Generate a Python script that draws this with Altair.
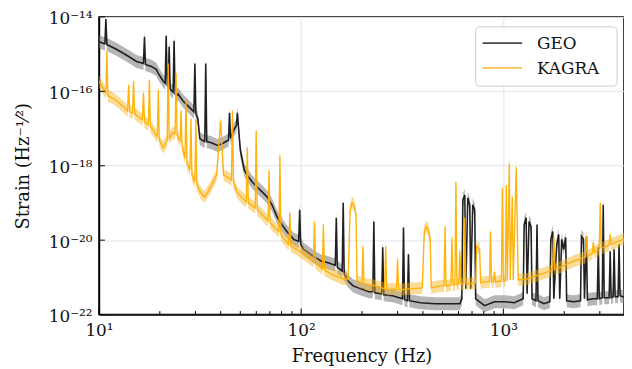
import math
import altair as alt
import pandas as pd

# ---------------- data ----------------
geo_freq = [10.0, 10.58, 10.70, 10.82, 10.94, 11.19, 12.25, 13.25, 14.02, 15.34,
            16.60, 16.79, 16.98, 17.56, 18.16, 19.21, 19.65, 20.79, 21.26, 21.50,
            21.75, 22.0, 22.24, 22.49, 23.26, 23.53, 23.79, 24.06, 24.62, 26.04,
            27.55, 29.15, 29.48, 29.81, 30.15, 30.83, 31.54, 32.62, 33.36, 33.74,
            34.12, 35.70, 38.63, 40.86, 43.23, 43.72, 44.22, 44.72, 46.24, 47.83,
            48.37, 48.92, 50.03, 52.34, 54.14, 57.27, 60.60, 64.10, 67.80, 71.73,
            75.89, 80.29, 84.96, 91.92, 97.23, 98.33, 99.45, 102.8, 106.4, 116.4,
            126.0, 133.3, 147.5, 149.2, 150.9, 159.6, 161.4, 163.2, 170.7, 180.6,
            197.6, 216.3, 226.2, 228.8, 231.4, 250.4, 253.2, 256.1, 283.4, 317.1,
            320.7, 324.4, 335.6, 339.3, 343.2, 388.4, 459.9, 544.5, 609.3, 623.3,
            630.3, 644.7, 652.0, 666.8, 682.0, 689.7, 705.4, 721.5, 729.6, 807.5,
            903.6, 1011, 1132, 1253, 1267, 1296, 1310, 1340, 1371, 1386,
            1450, 1467, 1483, 1587, 1697, 1717, 1756, 1776, 1837, 1878,
            1900, 1943, 1988, 2033, 2056, 2224, 2407, 2434, 2489, 2518,
            2575, 2603, 2786, 2914, 2947, 2981, 3083, 3118, 3153, 3336,
            3375, 3412, 3490, 3529, 3569, 3692, 3734, 3776, 3906, 4000]
geo_strain = [2.17e-15, 1.92e-15, 1.92e-15, 8.85e-15, 1.80e-15, 1.70e-15, 1.33e-15, 1.04e-15, 8.65e-16, 6.37e-16,
              5.63e-16, 2.94e-15, 5.30e-16, 4.99e-16, 4.69e-16, 3.90e-16, 3.05e-16, 1.87e-16, 1.66e-16, 3.13e-15,
              1.47e-16, 1.30e-16, 1.59e-15, 1.15e-16, 9.55e-17, 2.30e-15, 8.45e-17, 7.48e-17, 8.45e-17, 5.51e-17,
              4.06e-17, 2.99e-17, 2.81e-17, 5.63e-16, 2.48e-17, 1.83e-17, 5.38e-18, 4.76e-18, 4.48e-18, 5.63e-16,
              4.48e-18, 4.21e-18, 3.51e-18, 3.96e-18, 4.76e-18, 4.76e-18, 2.64e-17, 5.38e-18, 8.79e-18, 1.19e-17,
              2.64e-17, 1.19e-17, 2.58e-18, 7.59e-19, 5.60e-19, 3.64e-19, 2.68e-19, 1.98e-19, 1.46e-19, 8.91e-20,
              4.28e-20, 2.62e-20, 1.71e-20, 1.05e-20, 9.27e-21, 6.56e-20, 7.71e-21, 5.68e-21, 5.02e-21, 3.48e-21,
              2.72e-21, 2.56e-21, 2.13e-21, 4.02e-20, 1.89e-21, 1.48e-21, 1.01e-19, 1.23e-21, 8.01e-22, 5.90e-22,
              4.91e-22, 4.09e-22, 4.09e-22, 3.15e-20, 3.84e-22, 3.61e-22, 6.42e-21, 3.40e-22, 3.20e-22, 2.66e-22,
              2.18e-20, 2.50e-22, 2.36e-22, 4.18e-21, 2.36e-22, 2.08e-22, 1.96e-22, 1.96e-22, 1.96e-22, 2.66e-22,
              1.21e-19, 1.64e-19, 4.91e-22, 1.37e-19, 8.91e-20, 4.91e-22, 8.91e-20, 6.56e-20, 2.66e-22, 1.73e-22,
              2.22e-22, 2.22e-22, 2.08e-22, 2.66e-22, 2.62e-20, 4.02e-20, 3.61e-22, 3.15e-20, 2.32e-20, 2.66e-22,
              2.36e-22, 2.62e-20, 2.36e-22, 1.96e-22, 2.22e-22, 1.05e-20, 1.71e-20, 2.66e-22, 7.71e-21, 1.42e-20,
              2.66e-22, 1.05e-20, 5.68e-21, 1.18e-20, 2.36e-22, 2.22e-22, 2.36e-22, 1.26e-20, 1.05e-20, 2.66e-22,
              1.26e-20, 2.50e-22, 2.66e-22, 2.66e-22, 6.42e-21, 2.66e-22, 2.83e-22, 8.91e-20, 2.83e-22, 2.83e-22,
              5.02e-21, 2.83e-22, 3.01e-22, 5.68e-21, 3.01e-22, 3.01e-22, 7.71e-21, 3.20e-22, 3.01e-22, 2.90e-22]

kagra_freq = [10.0, 10.34, 10.82, 10.94, 11.07, 11.45, 12.25, 13.25, 13.86, 14.02,
              14.18, 14.66, 14.83, 15.00, 15.69, 16.41, 16.60, 16.79, 17.56, 17.76,
              17.96, 18.58, 19.43, 19.65, 19.87, 20.79, 21.75, 22.0, 22.24, 23.26,
              23.79, 24.06, 24.33, 25.18, 25.46, 25.75, 26.64, 26.94, 27.24, 28.18,
              28.50, 28.82, 29.81, 30.15, 30.49, 31.90, 33.36, 35.70, 38.19, 39.96,
              41.32, 43.23, 45.22, 45.74, 46.24, 48.37, 52.34, 53.54, 54.14, 54.75,
              59.25, 59.92, 60.60, 64.10, 67.80, 68.57, 69.35, 70.14, 75.89, 77.62,
              78.50, 79.39, 84.96, 86.89, 87.88, 88.86, 95.06, 106.4, 115.1, 116.4,
              117.8, 127.4, 128.8, 130.3, 141.0, 161.4, 170.7, 174.7, 178.6, 182.7,
              186.8, 188.9, 199.8, 202.1, 204.4, 234.0, 259.0, 261.9, 264.9, 283.4,
              296.4, 299.8, 303.2, 347.1, 397.2, 406.3, 415.6, 425.1, 434.8, 439.6,
              486.4, 508.8, 514.6, 520.5, 550.6, 556.9, 563.3, 576.1, 582.6, 589.3,
              602.6, 609.3, 616.4, 637.6, 644.7, 652.0, 729.6, 737.9, 763.2, 772.0,
              807.5, 854.2, 863.8, 873.6, 893.5, 903.6, 913.8, 977.7, 988.8, 1000,
              1023, 1034, 1046, 1070, 1082, 1107, 1119, 1158, 1184, 1310,
              1500, 1756, 1776, 1796, 1921, 2224, 2546, 2575, 2603, 2755,
              2786, 2818, 2981, 3014, 3049, 3336, 3375, 3412, 3906, 4000]
kagra_strain = [1.87e-16, 1.38e-16, 8.98e-17, 1.17e-15, 7.48e-17, 7.03e-17, 5.51e-17, 3.81e-17, 2.99e-17, 1.47e-16,
                2.81e-17, 2.64e-17, 1.87e-16, 2.48e-17, 2.07e-17, 1.72e-17, 8.98e-17, 1.52e-17, 1.27e-17, 1.99e-16,
                1.12e-17, 8.79e-18, 6.08e-18, 1.08e-16, 4.76e-18, 3.10e-18, 4.76e-18, 5.63e-16, 5.38e-18, 7.77e-18,
                7.31e-18, 3.05e-16, 6.47e-18, 4.76e-18, 2.99e-17, 3.51e-18, 1.58e-18, 5.85e-17, 1.16e-18, 7.59e-19,
                1.83e-17, 5.60e-19, 3.64e-19, 1.72e-17, 3.03e-19, 1.86e-19, 1.46e-19, 2.68e-19, 5.60e-19, 1.62e-17,
                5.60e-19, 4.95e-19, 4.12e-19, 2.99e-17, 3.64e-19, 1.86e-19, 1.21e-19, 1.07e-19, 3.10e-18, 1.01e-19,
                7.41e-20, 8.79e-18, 6.56e-20, 4.83e-20, 3.56e-20, 3.35e-20, 7.59e-19, 2.96e-20, 1.93e-20, 1.71e-20,
                1.90e-18, 1.42e-20, 8.71e-21, 7.71e-21, 5.47e-20, 6.82e-21, 5.68e-21, 3.70e-21, 2.72e-21, 3.15e-20,
                2.41e-21, 1.67e-21, 2.62e-20, 1.57e-21, 1.23e-21, 9.06e-22, 9.06e-22, 6.56e-20, 1.01e-19, 8.91e-20,
                4.83e-20, 8.01e-22, 7.09e-22, 6.82e-21, 6.67e-22, 5.90e-22, 4.91e-22, 6.82e-21, 4.62e-22, 4.91e-22,
                4.62e-22, 3.08e-21, 4.62e-22, 4.91e-22, 5.22e-22, 1.71e-20, 2.32e-20, 1.93e-20, 1.05e-20, 5.22e-22,
                5.90e-22, 5.90e-22, 2.32e-20, 5.90e-22, 6.27e-22, 1.18e-20, 6.27e-22, 6.27e-22, 3.64e-19, 6.27e-22,
                6.67e-22, 5.02e-21, 6.67e-22, 6.67e-22, 4.02e-20, 6.67e-22, 7.09e-22, 6.82e-21, 5.68e-21, 7.09e-22,
                7.54e-22, 7.54e-22, 1.71e-20, 7.54e-22, 7.54e-22, 1.39e-21, 7.54e-22, 8.01e-22, 2.52e-19, 8.01e-22,
                8.01e-22, 3.03e-19, 8.01e-22, 1.16e-18, 8.51e-22, 1.46e-19, 8.51e-22, 9.12e-19, 8.51e-22, 9.06e-22,
                1.16e-21, 1.57e-21, 1.26e-20, 1.67e-21, 1.89e-21, 2.72e-21, 3.48e-21, 1.26e-20, 3.70e-21, 4.45e-21,
                8.71e-21, 4.72e-21, 5.68e-21, 1.01e-19, 6.04e-21, 7.26e-21, 1.42e-20, 7.71e-21, 1.05e-20, 1.10e-20]

detectors = ["GEO", "KAGRA"]
band_factor = [1.5, 1.45]          # multiplicative half-width of the shaded band
line_colors = ["#161616", "#ffb000"]
band_colors = ["#7a7a7a", "#f6b01a"]
legend_colors = ["#4a4a4a", "#f8c050"]

x_major = [10, 100, 1000]
x_major_labels = ["10¹", "10²", "10³"]
x_minor = [20, 30, 40, 50, 60, 70, 80, 90, 200, 300, 400, 500, 600, 700, 800, 900, 2000, 3000]
y_major = [1e-22, 1e-20, 1e-18, 1e-16, 1e-14]
y_major_labels = ["10⁻²²", "10⁻²⁰", "10⁻¹⁸", "10⁻¹⁶", "10⁻¹⁴"]

# ---------------- build tables ----------------
df = pd.concat([
    pd.DataFrame({"f": geo_freq, "s": geo_strain, "det": "GEO", "k": band_factor[0]}),
    pd.DataFrame({"f": kagra_freq, "s": kagra_strain, "det": "KAGRA", "k": band_factor[1]}),
])
legend_df = pd.DataFrame({"det": detectors})

FONT = "DejaVu Serif"
W, H = 531, 301

xs = alt.Scale(type="log", domain=[10, 3950], nice=False)
ys = alt.Scale(type="log", domain=[1e-22, 1e-14], nice=False)


def chain(values, labels):
    key = "round(log(datum.value)/LN10)"
    expr = "''"
    for v, lab in reversed(list(zip(values, labels))):
        expr = f"({key} == {round(math.log10(v))} ? '{lab}' : {expr})"
    return expr


x_axis = alt.Axis(values=x_major, labelExpr=chain(x_major, x_major_labels), title="Frequency (Hz)",
                  tickSize=0, labelPadding=8, labelFontSize=17, labelFont=FONT,
                  titleFontSize=18, titleFont=FONT, titleFontWeight="normal",
                  titleBaseline="alphabetic", titleY=47, titleColor="#111",
                  grid=True, gridColor="#e4e4e4", domainColor="black", domainWidth=1.5,
                  labelColor="#111", labelFlush=False, labelOverlap=False, labelBound=False)
y_axis = alt.Axis(values=y_major, labelExpr=chain(y_major, y_major_labels), title="Strain (Hz⁻¹⁄²)",
                  tickSize=0, labelPadding=7, labelFontSize=17, labelFont=FONT,
                  labelOffset=2,
                  titleFontSize=18, titleFont=FONT, titleFontWeight="normal",
                  titleAngle=270, titleX=-76, titleY=H / 2, titleAlign="center",
                  titleBaseline="middle", titleColor="#111",
                  grid=True, gridColor="#e4e4e4", domainColor="black", domainWidth=1.5,
                  labelColor="#111", labelFlush=False, labelOverlap=False, labelBound=False)

X = alt.X("f:Q", scale=xs, axis=x_axis)
Y = alt.Y("s:Q", scale=ys, axis=y_axis)

layers = []
for det, bcol, lcol in zip(detectors, band_colors, line_colors):
    band = alt.Chart(df).transform_filter(alt.datum.det == det).transform_calculate(
        lo="datum.s / datum.k", hi="datum.s * datum.k"
    ).mark_area(clip=True, opacity=0.55 if det == "GEO" else 0.45, color=bcol).encode(
        x=X, y=alt.Y("lo:Q", scale=ys, axis=y_axis), y2="hi:Q"
    )
    line = alt.Chart(df).transform_filter(alt.datum.det == det).mark_line(
        clip=True, strokeWidth=1.6 if det == "GEO" else 1.4, color=lcol, opacity=0.95
    ).encode(x=X, y=Y)
    layers += [band, line]

xmaj = alt.Chart(pd.DataFrame({"f": x_major})).mark_rule(color="black", strokeWidth=1).encode(
    x=X, y=alt.value(H), y2=alt.value(H - 6))
xmin = alt.Chart(pd.DataFrame({"f": x_minor})).mark_rule(color="black", strokeWidth=1).encode(
    x=X, y=alt.value(H), y2=alt.value(H - 3.5))
ymaj = alt.Chart(pd.DataFrame({"s": y_major})).mark_rule(color="black", strokeWidth=1).encode(
    y=Y, x=alt.value(0), x2=alt.value(6))

# legend box (one row of the legend table) and entries
box = alt.Chart(legend_df).transform_filter(alt.datum.det == detectors[0]).mark_rect(
    fill="white", fillOpacity=0.8, stroke="#cccccc", strokeWidth=1, cornerRadius=4
).encode(x=alt.value(381), x2=alt.value(524), y=alt.value(10), y2=alt.value(70))
legend_layers = [box]
for i, det in enumerate(detectors):
    yy = 26.5 + 25 * i
    legend_layers.append(
        alt.Chart(legend_df).transform_filter(alt.datum.det == det).mark_rule(
            color=legend_colors[i], strokeWidth=1.6
        ).encode(x=alt.value(388), x2=alt.value(428), y=alt.value(yy))
    )
    legend_layers.append(
        alt.Chart(legend_df).transform_filter(alt.datum.det == det).mark_text(
            align="left", baseline="middle", font=FONT, fontSize=17, color="#111"
        ).encode(x=alt.value(443), y=alt.value(yy + 1), text="det:N")
    )

chart = alt.layer(*layers, xmaj, xmin, ymaj, *legend_layers).properties(
    width=W, height=H,
    autosize=alt.AutoSizeParams(type="none"),
    padding={"left": 92, "top": 7, "right": 0, "bottom": 52},
).configure(font=FONT).configure_view(stroke="black", strokeWidth=1.5)

chart.save("out.html", embed_options={"renderer": "svg", "actions": False})
